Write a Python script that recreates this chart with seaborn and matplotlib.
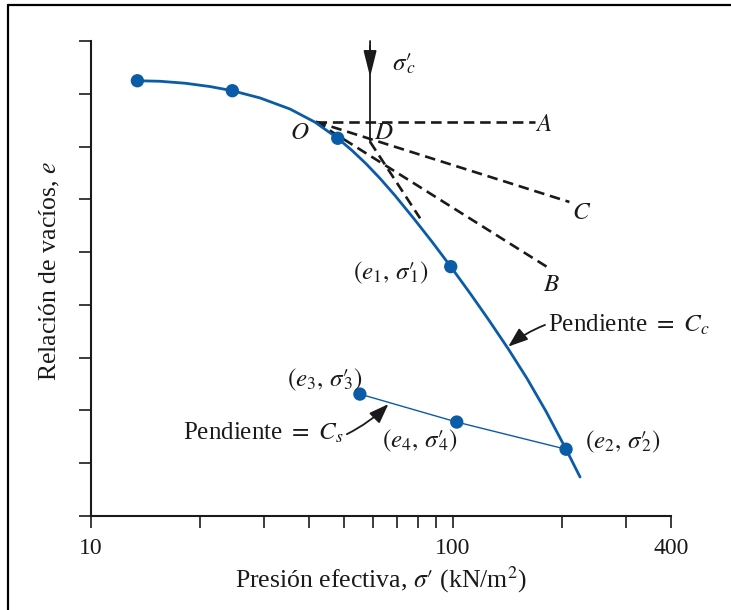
import matplotlib
matplotlib.use("Agg")
import matplotlib.pyplot as plt
import seaborn as sns
from matplotlib.lines import Line2D
from matplotlib.ticker import FixedLocator, FixedFormatter, NullLocator

# ---------------- data ----------------
# virgin compression curve e - log(sigma')
curve_sigma = [13.43, 15.51, 18.18, 21.32, 24.57, 29.30, 35.46, 41.57, 48.03,
               52.60, 57.50, 62.85, 69.16, 78.04, 87.51, 98.55, 111.4, 125.7,
               142.1, 160.1, 180.7, 205.2, 224.3]
curve_e = [8.247, 8.237, 8.200, 8.137, 8.058, 7.921, 7.711, 7.462, 7.157,
           6.926, 6.675, 6.397, 6.071, 5.630, 5.195, 4.725, 4.222, 3.708,
           3.166, 2.605, 1.981, 1.265, 0.739]
# measured points on loading branch
load_sigma = [13.43, 24.57, 48.03, 98.55, 205.2]
load_e = [8.247, 8.058, 7.157, 4.725, 1.265]
# unloading / reloading branch
unload_sigma = [55.3, 102.4, 205.2]
unload_e = [2.31, 1.78, 1.265]

# Casagrande construction lines (sigma', e)
line_OA_sigma = [41.8, 168.5]
line_OA_e = [7.47, 7.47]
line_OC_sigma = [41.8, 209.6]
line_OC_e = [7.47, 5.95]
line_OB_sigma = [41.8, 181.8]
line_OB_e = [7.47, 4.72]
line_D_sigma = [59.0, 81.1]
line_D_e = [7.09, 5.64]
sigma_c = 59.0

x_ticks = [10, 20, 30, 40, 50, 60, 70, 80, 90, 100, 200, 300, 400]
x_tick_labels = ["10", "", "", "", "", "", "", "", "", "100", "", "", "400"]
y_ticks = [0, 1, 2, 3, 4, 5, 6, 7, 8, 9]

# ---------------- style ----------------
sns.set_style("ticks")
plt.rcParams["font.family"] = ["Liberation Serif", "DejaVu Serif"]
plt.rcParams["mathtext.fontset"] = "stix"

BLUE = "#0A5CA6"
INK = "#1a1a1a"
PR = "\u2032"  # prime

fig, ax = plt.subplots(figsize=(7.31, 6.10), dpi=100)
fig.subplots_adjust(left=91 / 731, right=671 / 731,
                    bottom=1 - 516 / 610, top=1 - 41 / 610)
ax.set_xscale("log")

# construction lines (under the curve)
dash = dict(color=INK, lw=1.9, dashes=(4.0, 2.2), zorder=2)
for xs, ys in [(line_OA_sigma, line_OA_e), (line_OC_sigma, line_OC_e),
               (line_OB_sigma, line_OB_e), (line_D_sigma, line_D_e)]:
    ax.plot(xs, ys, **dash)

# sigma'_c vertical arrow
ax.plot([sigma_c, sigma_c], [8.9, line_D_e[0]], color=INK, lw=1.3, zorder=3)
ax.annotate("", xy=(sigma_c, 8.32), xytext=(sigma_c, 9.0),
            arrowprops=dict(arrowstyle="-|>,head_length=0.8,head_width=0.2",
                            mutation_scale=20, color=INK, lw=1.3,
                            shrinkA=0, shrinkB=0), zorder=3)

# curves
sns.lineplot(x=curve_sigma, y=curve_e, ax=ax, color=BLUE, lw=2.0,
             sort=False, estimator=None, zorder=4)
sns.lineplot(x=unload_sigma, y=unload_e, ax=ax, color=BLUE, lw=1.0,
             sort=False, estimator=None, zorder=4)
sns.scatterplot(x=load_sigma + unload_sigma[:2], y=load_e + unload_e[:2],
                ax=ax, color=BLUE, s=92, edgecolor="none", zorder=5,
                clip_on=False)

# axes
ax.set_xlim(10, 400)
ax.set_ylim(0, 9)
ax.xaxis.set_major_locator(FixedLocator(x_ticks))
ax.xaxis.set_major_formatter(FixedFormatter(x_tick_labels))
ax.xaxis.set_minor_locator(NullLocator())
ax.yaxis.set_major_locator(FixedLocator(y_ticks))
ax.set_yticklabels([])
ax.tick_params(axis="both", length=8.5, width=1.2, color=INK,
               labelsize=17, pad=7, labelcolor=INK)
for s in ["top", "right"]:
    ax.spines[s].set_visible(False)
for s in ["left", "bottom"]:
    ax.spines[s].set_linewidth(1.5)
    ax.spines[s].set_color(INK)

ax.set_xlabel("Presión efectiva, $\\sigma" + PR + "$ (kN/m$^2$)",
              fontsize=18.5, color=INK)
ax.xaxis.set_label_coords(0.5, (516 - 580) / 475)
ax.xaxis.label.set_va("center")
ax.set_ylabel(r"Relación de vacíos, $e$", fontsize=18.5, color=INK)
ax.yaxis.set_label_coords((50 - 91) / 580, (516 - 271) / 475)
ax.yaxis.label.set_va("center")

# labels
tk = dict(fontsize=18, color=INK, zorder=6)


def sig(i):
    # sigma with a full-size prime and the index tucked under the prime
    return "\\sigma" + PR + "\\!\\!{}_{" + i + "}"


def pt(i):
    return "$(e_" + i + ",\\, " + sig(i) + ")$"


ax.text(73.2, 8.56, "$" + sig("c") + "$", ha="center", va="center", **tk)
ax.text(37.8, 7.25, r"$O$", ha="center", va="center", **tk)
ax.text(64.2, 7.25, r"$D$", ha="center", va="center", **tk)
ax.text(177.7, 7.41, r"$A$", ha="center", va="center", **tk)
ax.text(226.8, 5.75, r"$C$", ha="center", va="center", **tk)
ax.text(187.4, 4.38, r"$B$", ha="center", va="center", **tk)
ax.text(67.3, 4.60, pt("1"), ha="center", va="center", **tk)
ax.text(44.1, 2.58, pt("3"), ha="center", va="center", **tk)
ax.text(80.6, 1.43, pt("4"), ha="center", va="center", **tk)
ax.text(293.9, 1.41, pt("2"), ha="center", va="center", **tk)

ax.text(183.4, 3.49, r"Pendiente $=$ $C_c$", ha="left", va="baseline", **tk)
ax.annotate("", xy=(142.1, 3.21), xytext=(179.5, 3.62),
            arrowprops=dict(arrowstyle="-|>,head_length=0.6,head_width=0.22",
                            mutation_scale=20, color=INK, lw=1.3,
                            shrinkA=0, shrinkB=0,
                            connectionstyle="arc3,rad=0.08"))
ax.text(49.8, 1.44, r"Pendiente $=$ $C_s$", ha="right", va="baseline", **tk)
ax.annotate("", xy=(66.3, 2.12), xytext=(50.9, 1.55),
            arrowprops=dict(arrowstyle="-|>,head_length=0.6,head_width=0.22",
                            mutation_scale=20, color=INK, lw=1.3,
                            shrinkA=0, shrinkB=0,
                            connectionstyle="arc3,rad=0.08"))

# frame around the figure (left and top edges visible)
fx, fy = 8 / 731, 1 - 5 / 610
fig.add_artist(Line2D([fx, fx], [0, fy], transform=fig.transFigure,
                      color="black", lw=1.6))
fig.add_artist(Line2D([fx, 1], [fy, fy], transform=fig.transFigure,
                      color="black", lw=1.6))

fig.savefig("out.png", dpi=100)
